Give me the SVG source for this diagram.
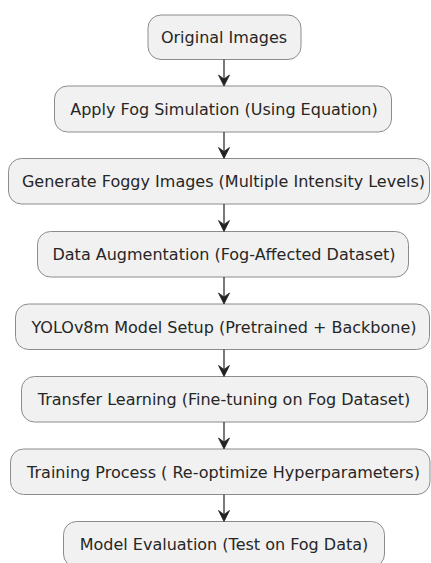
<svg xmlns="http://www.w3.org/2000/svg" width="431" height="563" viewBox="0 0 431 563">
<defs>
<style>
.node rect{fill:#F1F1F1;stroke:#8C8C8C;stroke-width:1}
.node text{font-family:"DejaVu Sans",sans-serif;font-size:16px;fill:#262626;text-anchor:middle}
.conn line{stroke:#222222;stroke-width:1.2}
.conn path{fill:#222222;stroke:#222222;stroke-width:0.8}
</style>
</defs>
<rect width="431" height="563" fill="#FFFFFF"/>
<g id="n1" class="node"><rect x="148" y="15" width="153" height="44.5" rx="13"/><text x="224" y="42.8">Original Images</text></g>
<g id="n2" class="node"><rect x="54.5" y="86" width="337" height="46" rx="13"/><text x="224" y="114.5">Apply Fog Simulation (Using Equation)</text></g>
<g id="n3" class="node"><rect x="8.5" y="158.5" width="421" height="45.5" rx="13"/><text x="223.5" y="187">Generate Foggy Images (Multiple Intensity Levels)</text></g>
<g id="n4" class="node"><rect x="37.5" y="231.5" width="371" height="45.5" rx="13"/><text x="224" y="260">Data Augmentation (Fog-Affected Dataset)</text></g>
<g id="n5" class="node"><rect x="15.5" y="304" width="414" height="45.5" rx="13"/><text x="224" y="332.5">YOLOv8m Model Setup (Pretrained + Backbone)</text></g>
<g id="n6" class="node"><rect x="21.5" y="376.5" width="406" height="45.5" rx="13"/><text x="224" y="405">Transfer Learning (Fine-tuning on Fog Dataset)</text></g>
<g id="n7" class="node"><rect x="10.5" y="449" width="419.5" height="45.5" rx="13"/><text x="223.5" y="477.5">Training Process ( Re-optimize Hyperparameters)</text></g>
<g id="n8" class="node"><rect x="63.5" y="521.5" width="321" height="45.5" rx="13"/><text x="224" y="550">Model Evaluation (Test on Fog Data)</text></g>
<g id="connectors" class="conn">
<line x1="224" y1="59.5" x2="224" y2="84"/><path d="M218.5,75 L224,86 L229.5,75 L224,79 Z"/>
<line x1="224" y1="132" x2="224" y2="156.5"/><path d="M218.5,147.5 L224,158.5 L229.5,147.5 L224,151.5 Z"/>
<line x1="224" y1="204" x2="224" y2="229.5"/><path d="M218.5,220.5 L224,231.5 L229.5,220.5 L224,224.5 Z"/>
<line x1="224" y1="277" x2="224" y2="302"/><path d="M218.5,293 L224,304 L229.5,293 L224,297 Z"/>
<line x1="224" y1="349.5" x2="224" y2="374.5"/><path d="M218.5,365.5 L224,376.5 L229.5,365.5 L224,369.5 Z"/>
<line x1="224" y1="422" x2="224" y2="447"/><path d="M218.5,438 L224,449 L229.5,438 L224,442 Z"/>
<line x1="224" y1="494.5" x2="224" y2="519.5"/><path d="M218.5,510.5 L224,521.5 L229.5,510.5 L224,514.5 Z"/>
</g>
</svg>
